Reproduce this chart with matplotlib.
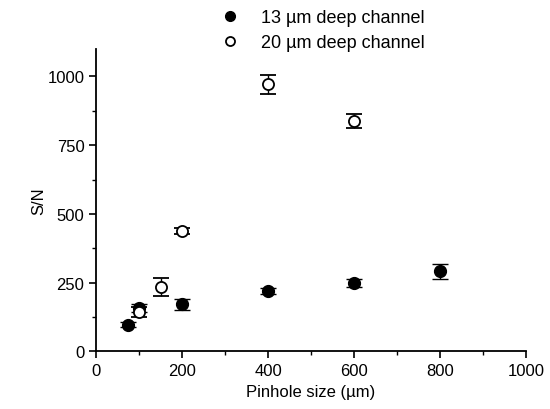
import numpy as np
import matplotlib
matplotlib.use("Agg")
import matplotlib.pyplot as plt
from matplotlib.ticker import MultipleLocator
from matplotlib.lines import Line2D

plt.rcParams['font.family'] = ['Liberation Sans', 'DejaVu Sans']

# 13 um deep channel
x13 = [75, 100, 200, 400, 600, 800]
y13 = [97, 157, 171, 219, 248, 291]
e13 = [10, 14, 20, 12, 16, 28]

# 20 um deep channel
x20 = [100, 150, 200, 400, 600]
y20 = [142, 233, 437, 972, 838]
e20 = [18, 33, 12, 35, 25]

labels = ['13 \u00b5m deep channel', '20 \u00b5m deep channel']

fig = plt.figure(figsize=(5.5, 4.1), dpi=100)
ax = fig.add_axes([0.175, 0.141, 0.781, 0.737])

ax.errorbar(x13, y13, yerr=e13, fmt='o', color='black', ms=8.5, capsize=6,
            elinewidth=1, capthick=1)
ax.errorbar(x20, y20, yerr=e20, fmt='o', color='black', mfc='white', mew=1.3,
            ms=8, capsize=6, elinewidth=1, capthick=1)

ax.set_xlim(0, 1000)
ax.set_ylim(0, 1100)
ax.xaxis.set_major_locator(MultipleLocator(200))
ax.xaxis.set_minor_locator(MultipleLocator(100))
ax.yaxis.set_major_locator(MultipleLocator(250))
ax.yaxis.set_minor_locator(MultipleLocator(125))
ax.spines['top'].set_visible(False)
ax.spines['right'].set_visible(False)
ax.spines['left'].set_linewidth(1.3)
ax.spines['bottom'].set_linewidth(1.3)
ax.tick_params(which='major', direction='out', length=5, width=1.2, labelsize=12)
ax.tick_params(which='minor', direction='out', length=3, width=1)

ax.set_xlabel('Pinhole size (\u00b5m)', fontsize=12)
ax.set_ylabel('S/N', fontsize=12, labelpad=1)

# legend: plain markers only
h1 = Line2D([], [], ls='none', marker='o', color='black', ms=7)
h2 = Line2D([], [], ls='none', marker='o', color='black', mfc='white', mew=1.3, ms=6.5)
ax.legend([h1, h2], labels, loc='upper left', bbox_to_anchor=(0.373, 1.015),
          bbox_transform=fig.transFigure, frameon=False, fontsize=13,
          handletextpad=1.2, labelspacing=0.45, handlelength=1.0)

fig.savefig('out.png', dpi=100)
